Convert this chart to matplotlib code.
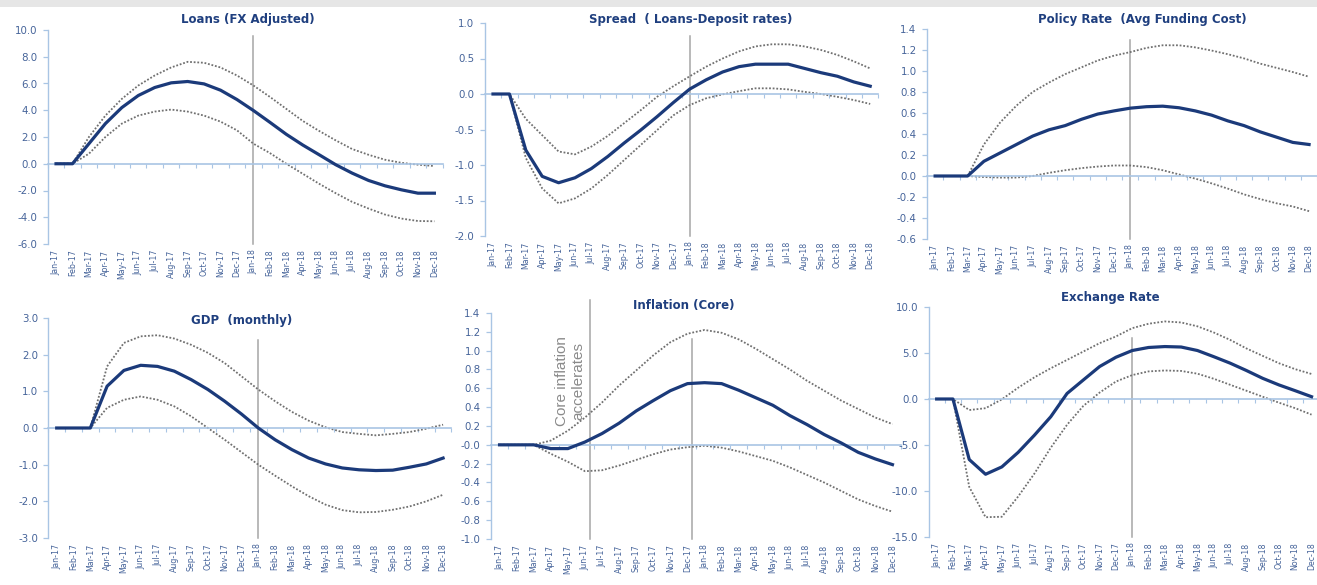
import numpy as np
import matplotlib
matplotlib.use("Agg")
import matplotlib.pyplot as plt
from matplotlib.patches import Rectangle

plt.rcParams['axes.unicode_minus'] = False
plt.rcParams['font.family'] = ['DejaVu Sans']

months = ['Jan-17', 'Feb-17', 'Mar-17', 'Apr-17', 'May-17', 'Jun-17', 'Jul-17', 'Aug-17',
          'Sep-17', 'Oct-17', 'Nov-17', 'Dec-17', 'Jan-18', 'Feb-18', 'Mar-18', 'Apr-18',
          'May-18', 'Jun-18', 'Jul-18', 'Aug-18', 'Sep-18', 'Oct-18', 'Nov-18', 'Dec-18']

loans_mid = [0, 0, 1.5, 3.0, 4.2, 5.1, 5.7, 6.05, 6.15, 5.97, 5.5, 4.8, 3.98, 3.1, 2.2, 1.4,
             0.67, -0.07, -0.7, -1.25, -1.65, -1.95, -2.2, -2.2]
loans_hi = [0, 0, 2.0, 3.6, 4.85, 5.85, 6.6, 7.2, 7.62, 7.55, 7.2, 6.6, 5.85, 5.0, 4.1, 3.2,
            2.45, 1.75, 1.1, 0.67, 0.3, 0.07, -0.07, -0.17]
loans_lo = [0, 0, 0.75, 2.0, 3.0, 3.6, 3.9, 4.05, 3.9, 3.6, 3.15, 2.5, 1.5, 0.8, 0.0, -0.75,
            -1.5, -2.2, -2.85, -3.35, -3.8, -4.1, -4.28, -4.3]

spread_mid = [0, 0, -0.79, -1.16, -1.25, -1.18, -1.05, -0.88, -0.69, -0.51, -0.32, -0.12,
              0.07, 0.2, 0.31, 0.385, 0.42, 0.42, 0.42, 0.36, 0.3, 0.25, 0.17, 0.11]
spread_hi = [0, 0, -0.35, -0.58, -0.81, -0.85, -0.74, -0.59, -0.41, -0.23, -0.04, 0.11,
             0.25, 0.385, 0.5, 0.6, 0.67, 0.7, 0.7, 0.67, 0.62, 0.55, 0.46, 0.36]
spread_lo = [0, 0, -0.9, -1.33, -1.54, -1.47, -1.33, -1.14, -0.93, -0.72, -0.51, -0.3,
             -0.155, -0.06, -0.005, 0.04, 0.08, 0.08, 0.065, 0.03, 0.0, -0.04, -0.085, -0.14]

policy_mid = [0, 0, 0, 0.14, 0.22, 0.30, 0.38, 0.44, 0.48, 0.54, 0.59, 0.62, 0.646, 0.66,
              0.665, 0.65, 0.62, 0.58, 0.525, 0.48, 0.42, 0.37, 0.32, 0.30]
policy_hi = [0, 0, 0, 0.30, 0.51, 0.67, 0.80, 0.89, 0.97, 1.035, 1.10, 1.146, 1.18, 1.22,
             1.245, 1.245, 1.225, 1.195, 1.16, 1.12, 1.07, 1.03, 0.99, 0.945]
policy_lo = [0, 0, 0, -0.01, -0.015, -0.015, 0.0, 0.03, 0.055, 0.075, 0.09, 0.1, 0.1, 0.085,
             0.055, 0.015, -0.025, -0.07, -0.12, -0.175, -0.22, -0.26, -0.29, -0.335]

gdp_mid = [0, 0, 0, 1.14, 1.57, 1.71, 1.68, 1.55, 1.32, 1.05, 0.73, 0.38, 0.0, -0.32, -0.59,
           -0.82, -0.98, -1.09, -1.14, -1.16, -1.15, -1.07, -0.98, -0.82]
gdp_hi = [0, 0, 0, 1.68, 2.32, 2.5, 2.53, 2.44, 2.27, 2.05, 1.77, 1.41, 1.05, 0.73, 0.44, 0.2,
          0.02, -0.11, -0.16, -0.2, -0.16, -0.11, -0.02, 0.09]
gdp_lo = [0, 0, 0, 0.55, 0.77, 0.86, 0.77, 0.59, 0.32, 0.0, -0.32, -0.66, -1.0, -1.3, -1.59,
          -1.86, -2.09, -2.24, -2.3, -2.29, -2.23, -2.14, -2.0, -1.82]

infl_mid = [0, 0, 0, -0.04, -0.04, 0.03, 0.12, 0.23, 0.36, 0.47, 0.575, 0.65, 0.66, 0.65,
            0.58, 0.5, 0.42, 0.31, 0.215, 0.11, 0.02, -0.08, -0.15, -0.21]
infl_hi = [0, 0, 0, 0.045, 0.15, 0.29, 0.45, 0.63, 0.79, 0.95, 1.09, 1.18, 1.22, 1.19, 1.12,
           1.02, 0.91, 0.8, 0.68, 0.575, 0.47, 0.38, 0.29, 0.22]
infl_lo = [0, 0, 0, -0.095, -0.18, -0.28, -0.27, -0.22, -0.16, -0.1, -0.05, -0.025, -0.01,
           -0.03, -0.07, -0.12, -0.17, -0.24, -0.32, -0.4, -0.49, -0.58, -0.65, -0.71]

fx_mid = [0, 0, -6.58, -8.18, -7.38, -5.8, -3.93, -1.93, 0.6, 2.07, 3.53, 4.54, 5.27, 5.6,
          5.7, 5.65, 5.27, 4.6, 3.9, 3.1, 2.25, 1.53, 0.9, 0.25]
fx_hi = [0, 0, -1.2, -1.0, -0.04, 1.23, 2.36, 3.34, 4.25, 5.16, 6.07, 6.8, 7.7, 8.18, 8.43,
         8.32, 7.9, 7.23, 6.43, 5.5, 4.69, 3.89, 3.24, 2.72]
fx_lo = [0, 0, -9.56, -12.85, -12.8, -10.6, -8.1, -5.3, -2.8, -0.75, 0.7, 1.9, 2.6, 3.0, 3.1,
         3.05, 2.75, 2.2, 1.55, 0.9, 0.25, -0.4, -1.0, -1.7]

titles = ['Loans (FX Adjusted)', 'Spread  ( Loans-Deposit rates)', 'Policy Rate  (Avg Funding Cost)',
          'GDP  (monthly)', 'Inflation (Core)', 'Exchange Rate']
annotation = 'Core inflation\naccelerates'

W, H = 1317, 585
fig = plt.figure(figsize=(W / 100, H / 100), dpi=100)
fig.patch.set_facecolor('white')
fig.patches.append(Rectangle((0, 1 - 7 / H), 1, 7 / H, transform=fig.transFigure,
                             facecolor='#e6e6e6', edgecolor='none', zorder=0))

SPINE = '#a9c5e4'
TICK_TXT = '#46649a'
TITLE_C = '#1f3f7f'
MAIN_C = '#1b3a7a'
DOT_C = '#707070'
VLINE_C = '#a6a6a6'

x = np.arange(len(months))

panels = [
    # (mid, hi, lo, ylim, step, box(l, r, t, b), title(x, y), vlines[(pos, top)])
    (loans_mid, loans_hi, loans_lo, (-6, 10), 2, (47.8, 442.6, 30, 244), (248, 19), [(12, 0.97)]),
    (spread_mid, spread_hi, spread_lo, (-2, 1), 0.5, (484.8, 878.4, 23, 236), (691, 20), [(12, 0.94)]),
    (policy_mid, policy_hi, policy_lo, (-0.6, 1.4), 0.2, (927, 1317.2, 29, 239), (1142, 20), [(12, 0.95)]),
    (gdp_mid, gdp_hi, gdp_lo, (-3, 3), 1, (48.3, 451.5, 318, 538), (242, 320), [(12, 0.9)]),
    (infl_mid, infl_hi, infl_lo, (-1.0, 1.4), 0.2, (491, 901, 313, 539), (684, 306),
     [(5.3, 1.058), (11.25, 0.885)]),
    (fx_mid, fx_hi, fx_lo, (-15, 10), 5, (928.5, 1319.7, 307, 537), (1110, 297), [(12, 0.865)]),
]

axes = []
for i, (mid, hi, lo, ylim, step, box, tpos, vls) in enumerate(panels):
    l, r, t, b = box
    ax = fig.add_axes([l / W, 1 - b / H, (r - l) / W, (b - t) / H])
    ax.set_facecolor('none')
    ax.set_xlim(-0.5, len(months) - 0.5)
    ax.set_ylim(*ylim)
    ax.set_yticks(np.round(np.arange(ylim[0], ylim[1] + step / 2, step), 2))
    ax.yaxis.set_major_formatter(matplotlib.ticker.FormatStrFormatter('%.1f'))
    ax.tick_params(axis='y', direction='out', length=3.5, width=0.9, color=SPINE,
                   labelcolor=TICK_TXT, labelsize=7.4, pad=4)
    for s in ['top', 'right']:
        ax.spines[s].set_visible(False)
    ax.spines['left'].set_color(SPINE)
    ax.spines['left'].set_linewidth(1.0)
    ax.spines['bottom'].set_position(('data', 0))
    ax.spines['bottom'].set_color(SPINE)
    ax.spines['bottom'].set_linewidth(1.2)
    ax.set_xticks(np.arange(-0.5, len(months), 1))
    ax.tick_params(axis='x', labelbottom=False, direction='out', length=3, width=0.8, color=SPINE)

    sec = ax.secondary_xaxis('bottom')
    sec.set_xticks(x)
    sec.set_xticklabels(months, rotation=90)
    sec.tick_params(length=0, pad=4, labelsize=5.7, labelcolor=TICK_TXT)
    sec.spines['bottom'].set_visible(False)

    for pos, top in vls:
        ax.axvline(pos, ymin=0, ymax=top, color=VLINE_C, lw=1.1, clip_on=False, zorder=1)

    ax.plot(x, hi, color=DOT_C, lw=1.3, linestyle=(0, (1, 1)), zorder=2, clip_on=False)
    ax.plot(x, lo, color=DOT_C, lw=1.3, linestyle=(0, (1, 1)), zorder=2, clip_on=False)
    ax.plot(x, mid, color=MAIN_C, lw=2.3, zorder=3, solid_joinstyle='round', clip_on=False)

    fig.text(tpos[0] / W, 1 - tpos[1] / H, titles[i], ha='center', va='center',
             fontsize=8.5, fontweight='bold', color=TITLE_C)
    axes.append(ax)

# annotation on inflation panel
axes[4].text(0.193, 0.70, annotation, transform=axes[4].transAxes, rotation=90,
             ha='center', va='center', multialignment='center', fontsize=11,
             family=['Liberation Sans', 'DejaVu Sans'], color='#8a8a8a', linespacing=1.15)

fig.savefig('out.png', dpi=100, facecolor='white')
